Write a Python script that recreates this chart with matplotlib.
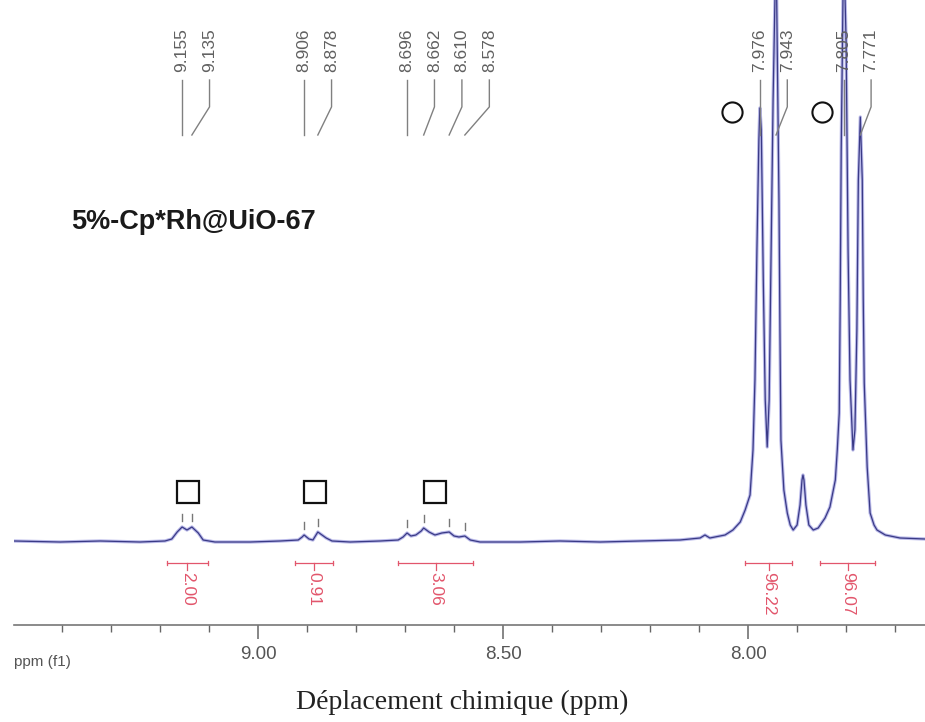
import numpy as np
import matplotlib
matplotlib.use('Agg')
import matplotlib.pyplot as plt
from matplotlib.transforms import blended_transform_factory

# ---------------- data ----------------
spec_ppm = [9.498, 9.404, 9.322, 9.241, 9.190, 9.176, 9.165, 9.155, 9.145, 9.135,
            9.122, 9.112, 9.088, 9.016, 8.955, 8.918, 8.910, 8.906, 8.896, 8.888,
            8.878, 8.861, 8.849, 8.812, 8.751, 8.714, 8.704, 8.696, 8.688, 8.678,
            8.667, 8.662, 8.651, 8.639, 8.625, 8.610, 8.600, 8.590, 8.578, 8.567,
            8.547, 8.465, 8.384, 8.302, 8.220, 8.139, 8.098, 8.088, 8.078, 8.047,
            8.031, 8.016, 8.006, 7.996, 7.990, 7.986, 7.982, 7.978, 7.976, 7.973,
            7.969, 7.965, 7.961, 7.957, 7.953, 7.949, 7.943, 7.937, 7.935, 7.933,
            7.927, 7.920, 7.914, 7.908, 7.900, 7.894, 7.890, 7.888, 7.886, 7.882,
            7.876, 7.867, 7.857, 7.843, 7.833, 7.822, 7.818, 7.814, 7.812, 7.810,
            7.805, 7.800, 7.796, 7.792, 7.786, 7.782, 7.778, 7.775, 7.771, 7.767,
            7.765, 7.763, 7.757, 7.751, 7.743, 7.737, 7.720, 7.690, 7.639]
spec_int = [0.0, -0.2, 0.0, -0.2, 0.0, 0.4, 1.8, 2.8, 2.2, 2.8,
            1.6, 0.2, -0.2, -0.2, 0.0, 0.2, 0.8, 1.2, 0.4, 0.2,
            1.8, 0.6, 0.0, -0.2, 0.0, 0.2, 0.8, 1.6, 1.0, 1.2,
            2.0, 2.6, 1.8, 1.2, 1.6, 1.8, 1.0, 0.8, 1.0, 0.2,
            -0.2, -0.2, 0.0, -0.2, 0.0, 0.2, 0.6, 1.2, 0.6, 1.2,
            2.2, 3.8, 6.2, 9.2, 18.2, 32.2, 58.2, 80.2, 86.6, 82.2,
            52.2, 28.2, 18.8, 28.2, 58.2, 88.2, 120.0, 68.2, 42.2, 20.2,
            10.2, 5.6, 3.2, 2.2, 3.2, 7.2, 12.2, 13.2, 12.2, 7.2,
            3.2, 2.2, 2.6, 4.6, 6.8, 12.2, 18.2, 25.6, 48.2, 78.2,
            120.0, 100.0, 58.2, 32.2, 18.2, 22.2, 42.2, 72.2, 84.8, 72.2,
            48.2, 31.6, 14.8, 5.6, 3.2, 2.2, 1.2, 0.6, 0.4]

peak_ppm = [9.155, 9.135, 8.906, 8.878, 8.696, 8.662, 8.610, 8.578,
            7.976, 7.943, 7.805, 7.771]
peak_labels = ['9.155', '9.135', '8.906', '8.878', '8.696', '8.662', '8.610',
               '8.578', '7.976', '7.943', '7.805', '7.771']
peak_group = [0, 0, 1, 1, 2, 2, 2, 2, 3, 3, 4, 4]

integ_start = [9.186, 8.924, 8.714, 8.006, 7.853]
integ_end = [9.102, 8.847, 8.561, 7.910, 7.741]
integ_values = ['2.00', '0.91', '3.06', '96.22', '96.07']

square_ppm = [9.143, 8.884, 8.639]
circle_ppm = [8.033, 7.849]

x_major = [9.00, 8.50, 8.00]
x_major_labels = ['9.00', '8.50', '8.00']

sample_name = '5%-Cp*Rh@UiO-67'
axis_title = 'Déplacement chimique (ppm)'
axis_unit = 'ppm (f1)'

# ---------------- figure ----------------
W, H = 925, 722
fig = plt.figure(figsize=(W / 100, H / 100), dpi=100)
ax = fig.add_axes([14 / W, (H - 625) / H, 1 - 14 / W, 625 / H])
ax.set_xlim(9.498, 7.639)
ax.set_ylim(-16.8, 108.2)

for s in ['top', 'left', 'right']:
    ax.spines[s].set_visible(False)
ax.spines['bottom'].set_color('#777777')
ax.spines['bottom'].set_linewidth(1.2)
ax.set_yticks([])

ax.set_xticks(x_major)
ax.set_xticklabels(x_major_labels, family='Liberation Sans', fontsize=13.5, color='#555555')
ax.set_xticks(np.arange(7.7, 9.45, 0.1), minor=True)
ax.tick_params(axis='x', which='major', direction='out', length=10, width=1.1,
               color='#666666', pad=5)
ax.tick_params(axis='x', which='minor', direction='out', length=5, width=1.0,
               color='#666666')

# spectrum
ax.plot(spec_ppm, spec_int, color='#a9a9e4', lw=2.4, alpha=0.8, solid_joinstyle='round')
ax.plot(spec_ppm, spec_int, color='#3a3a86', lw=0.9, solid_joinstyle='round')

trans = blended_transform_factory(ax.transData, ax.transAxes)

# peak labels with leader lines
spacing = 0.056
label_x = []
for i, p in enumerate(peak_ppm):
    if i > 0 and peak_group[i] == peak_group[i - 1]:
        label_x.append(min(p, label_x[-1] - spacing))
    else:
        label_x.append(p)

for p, lx, lab in zip(peak_ppm, label_x, peak_labels):
    ax.plot([lx, lx, p], [0.872, 0.829, 0.784], transform=trans, color='#808080',
            lw=1.0, clip_on=False)
    ax.text(lx, 0.884, lab, transform=trans, rotation=90, ha='center', va='bottom',
            family='Liberation Sans', fontsize=12.5, color='#606060')

# peak-pick marks above small peaks
rev_ppm = spec_ppm[::-1]
rev_int = spec_int[::-1]
for p in peak_ppm[:8]:
    h = np.interp(p, rev_ppm, rev_int)
    ax.plot([p, p], [h + 1.2, h + 2.6], color='#777777', lw=1.0)

# markers
ax.plot(square_ppm, [0.213] * len(square_ppm), transform=trans, ls='none', marker='s',
        ms=15.5, mfc='none', mec='#111111', mew=1.6)
ax.plot(circle_ppm, [0.821] * len(circle_ppm), transform=trans, ls='none', marker='o',
        ms=14.5, mfc='none', mec='#111111', mew=1.5)

# integrals
red = '#e2566c'
for a, b, v in zip(integ_start, integ_end, integ_values):
    c = (a + b) / 2
    ax.plot([a, b], [-4.4, -4.4], color=red, lw=0.9)
    ax.plot([a, a], [-4.0, -4.8], color=red, lw=0.9)
    ax.plot([b, b], [-4.0, -4.8], color=red, lw=0.9)
    ax.plot([c, c], [-4.4, -5.8], color=red, lw=0.9)
    ax.text(c, -6.2, v, rotation=-90, ha='center', va='top', family='Liberation Sans',
            fontsize=12.5, color=red)

# texts
fig.text(71 / W, 1 - 222 / H, sample_name, ha='left', va='center',
         family='Liberation Sans', fontweight='bold', fontsize=19.5, color='#1a1a1a')
fig.text(14 / W, 1 - 662 / H, axis_unit, ha='left', va='center',
         family='Liberation Sans', fontsize=11, color='#555555')
fig.text(462 / W, 1 - 702 / H, axis_title, ha='center', va='center',
         family='Liberation Serif', fontsize=20, color='#222222')

fig.savefig('out.png', dpi=100, facecolor='white')
